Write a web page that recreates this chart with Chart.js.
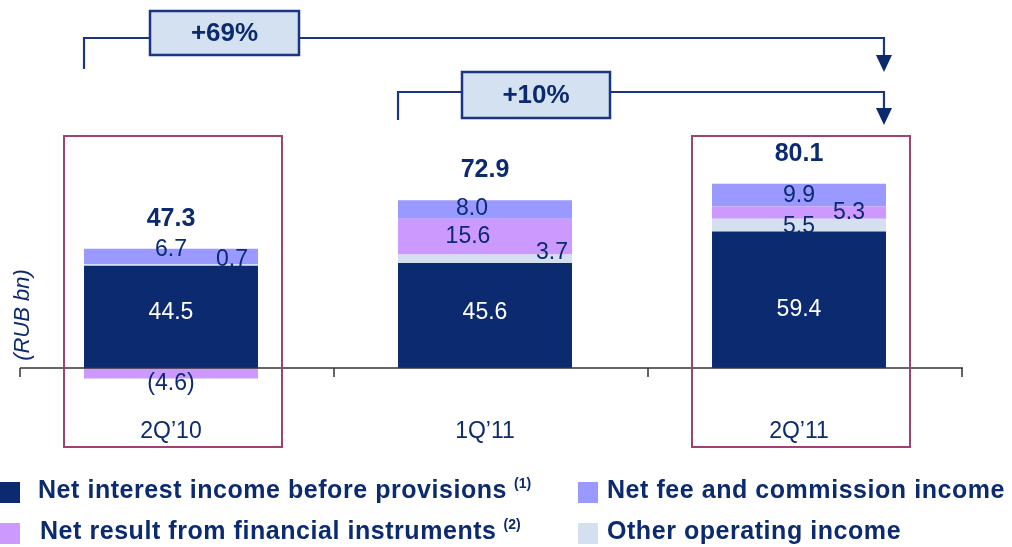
<!DOCTYPE html>
<html>
<head>
<meta charset="utf-8">
<script src="https://cdn.jsdelivr.net/npm/chart.js@4.4.1/dist/chart.umd.min.js"></script>
<style>
  body { margin: 0; background: #fff; width: 1012px; height: 547px; overflow: hidden; position: relative; font-family: "Liberation Sans", Arial, sans-serif; }
  #chart { position: absolute; left: 0; top: 0; }
  .lg { position: absolute; font-weight: bold; font-size: 25px; letter-spacing: 0.55px; color: #0B2A6F; white-space: nowrap; line-height: 25px; }
  .lg sup { font-size: 14px; letter-spacing: 0; vertical-align: 10px; line-height: 0; margin-left: 7px; }
  .sw { position: absolute; width: 20px; height: 21px; }
</style>
</head>
<body>
<canvas id="chart" width="1012" height="547"></canvas>

<div class="sw" style="left:0;top:482px;background:#0B2A6F"></div>
<div class="lg" style="left:38px;top:477px">Net interest income before provisions<sup>(1)</sup></div>
<div class="sw" style="left:578px;top:482px;background:#9999FF"></div>
<div class="lg" style="left:607px;top:477px">Net fee and commission income</div>
<div class="sw" style="left:0;top:523px;background:#CC99FF"></div>
<div class="lg" style="left:40px;top:518px">Net result from financial instruments<sup>(2)</sup></div>
<div class="sw" style="left:578px;top:523px;background:#D4E0F0"></div>
<div class="lg" style="left:607px;top:518px">Other operating income</div>

<script>
document.addEventListener("DOMContentLoaded", function () {

    // data (RUB bn)
    const quarters = ['2Q\u201910', '1Q\u201911', '2Q\u201911'];
    const netInterest = [44.5, 45.6, 59.4];
    const otherIncome = [0.7, 3.7, 5.5];
    const finInstruments = [-4.6, 15.6, 5.3];
    const feeIncome = [6.7, 8.0, 9.9];
    const totals = [47.3, 72.9, 80.1];
    const growthLabels = ['+69%', '+10%'];
    const highlighted = [0, 2];

    const navy = '#0B2A6F';

    // label nudges for the thin segments [dx, dy], per dataset / quarter
    const nudges = [
        [[0, -4], [0, -3], [0, 10]],
        [[61, -5], [67, -6], [0, 2]],
        [[0, 10], [-17, 0], [50, 0]],
        [[0, -7], [-13, -1], [0, 1]]
    ];

    const extras = {
        id: 'extras',
        afterDatasetsDraw(chart) {
            const ctx = chart.ctx;
            const area = chart.chartArea;
            const x = chart.scales.x;
            const y = chart.scales.y;
            const zero = y.getPixelForValue(0);
            const step = (area.right - area.left) / quarters.length;

            // axis line with ticks
            ctx.save();
            ctx.strokeStyle = '#333';
            ctx.lineWidth = 1.5;
            ctx.beginPath();
            ctx.moveTo(area.left + 6, zero);
            ctx.lineTo(area.right + 7, zero);
            for (let i = 0; i <= quarters.length; i++) {
                const tx = area.left + 6 + step * i;
                ctx.moveTo(tx, zero);
                ctx.lineTo(tx, zero + 9);
            }
            ctx.stroke();

            // segment values
            ctx.textAlign = 'center';
            ctx.textBaseline = 'middle';
            ctx.font = '23px "Liberation Sans", Arial, sans-serif';
            chart.data.datasets.forEach(function (ds, i) {
                chart.getDatasetMeta(i).data.forEach(function (bar, j) {
                    const v = ds.data[j];
                    const txt = v < 0 ? '(' + Math.abs(v).toFixed(1) + ')' : v.toFixed(1);
                    ctx.fillStyle = i === 0 ? '#fff' : navy;
                    ctx.fillText(txt, bar.x + nudges[i][j][0], (bar.y + bar.base) / 2 + nudges[i][j][1]);
                });
            });

            // totals, above the top of each stack
            ctx.font = 'bold 25px "Liberation Sans", Arial, sans-serif';
            ctx.fillStyle = navy;
            const topBars = chart.getDatasetMeta(3).data;
            totals.forEach(function (t, j) {
                ctx.fillText(t.toFixed(1), topBars[j].x, topBars[j].y - 30);
            });

            // category labels
            ctx.font = '23px "Liberation Sans", Arial, sans-serif';
            quarters.forEach(function (q, j) {
                ctx.fillText(q, x.getPixelForValue(j), 432);
            });

            // highlight frames
            ctx.strokeStyle = '#A3406F';
            ctx.lineWidth = 2;
            highlighted.forEach(function (j) {
                const cx = x.getPixelForValue(j);
                ctx.strokeRect(cx - 107, 136, 218, 311);
            });

            // unit label
            ctx.save();
            ctx.translate(23, 315);
            ctx.rotate(-Math.PI / 2);
            ctx.font = 'italic 22px "Liberation Sans", Arial, sans-serif';
            ctx.fillText('(RUB bn)', 0, 0);
            ctx.restore();

            // growth arrows
            const meta = chart.getDatasetMeta(0).data;
            const endX = meta[2].x + meta[2].width / 2 - 2;
            const arrows = [
                { from: meta[0].x - meta[0].width / 2, start: 69, line: 38, tip: 72, box: [150, 11, 149, 44] },
                { from: meta[1].x - meta[1].width / 2, start: 120, line: 92, tip: 125, box: [462, 72, 148, 46] }
            ];
            arrows.forEach(function (a, k) {
                ctx.strokeStyle = '#1A3582';
                ctx.lineWidth = 2.2;
                ctx.beginPath();
                ctx.moveTo(a.from, a.start);
                ctx.lineTo(a.from, a.line);
                ctx.lineTo(endX, a.line);
                ctx.lineTo(endX, a.tip - 16);
                ctx.stroke();
                ctx.fillStyle = navy;
                ctx.beginPath();
                ctx.moveTo(endX - 8, a.tip - 17);
                ctx.lineTo(endX + 8, a.tip - 17);
                ctx.lineTo(endX, a.tip);
                ctx.closePath();
                ctx.fill();

                ctx.fillStyle = '#D4E1F1';
                ctx.fillRect(a.box[0], a.box[1], a.box[2], a.box[3]);
                ctx.strokeStyle = '#1A3582';
                ctx.lineWidth = 2.5;
                ctx.strokeRect(a.box[0], a.box[1], a.box[2], a.box[3]);
                ctx.fillStyle = navy;
                ctx.font = 'bold 26px "Liberation Sans", Arial, sans-serif';
                ctx.fillText(growthLabels[k], a.box[0] + a.box[2] / 2, a.box[1] + a.box[3] / 2 + 1);
            });
            ctx.restore();
        }
    };

    new Chart(document.getElementById('chart'), {
        type: 'bar',
        data: {
            labels: quarters,
            datasets: [
                { label: 'Net interest income before provisions', data: netInterest, backgroundColor: navy },
                { label: 'Other operating income', data: otherIncome, backgroundColor: '#D4E0F0' },
                { label: 'Net result from financial instruments', data: finInstruments, backgroundColor: '#CC99FF' },
                { label: 'Net fee and commission income', data: feeIncome, backgroundColor: '#9999FF' }
            ]
        },
        options: {
            responsive: false,
            animation: false,
            devicePixelRatio: 1,
            layout: { padding: { left: 14, right: 56, top: 161, bottom: 156 } },
            categoryPercentage: 1,
            barPercentage: 0.554,
            plugins: { legend: { display: false }, tooltip: { enabled: false } },
            scales: {
                x: { stacked: true, display: false },
                y: { stacked: true, display: false, min: -10, max: 90 }
            }
        },
        plugins: [extras]
    });

});
</script>
</body>
</html>
